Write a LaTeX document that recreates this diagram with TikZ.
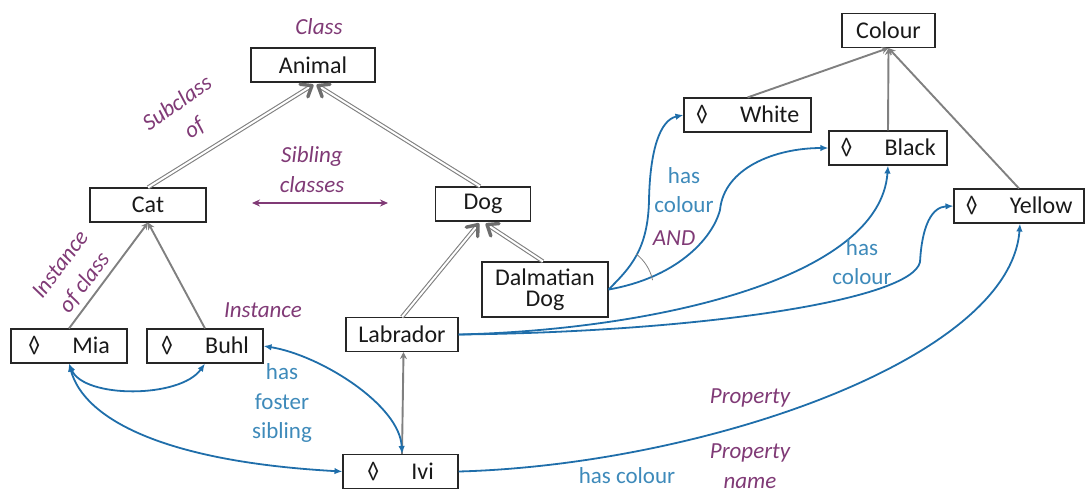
\documentclass[tikz,border=0pt]{standalone}
\usepackage{fontspec}
\setmainfont{Carlito}
\usetikzlibrary{arrows.meta,calc}

\definecolor{linkblue}{RGB}{31,110,170}
\definecolor{textblue}{RGB}{62,138,186}
\definecolor{notepurple}{RGB}{128,58,118}
\definecolor{hiergray}{RGB}{128,128,128}

\newcommand\boxfont{\fontsize{24}{21}\selectfont}
\newcommand\notefont{\fontsize{23}{30}\selectfont\itshape}
\newcommand\relfont{\fontsize{23}{29.5}\selectfont}
\newcommand\lz{◊\hspace{32pt}}

\tikzset{
  box/.style={draw=black!85, line width=1.1pt, inner sep=0pt, minimum height=34pt,
              font=\boxfont, text=black!90, align=center},
  note/.style={text=notepurple, font=\notefont, inner sep=0pt, align=center},
  rel/.style={text=textblue, font=\relfont, inner sep=0pt, align=center},
  sub/.style={draw=hiergray, line width=1.1pt, double=white, double distance=2pt},
  subv/.style={draw=hiergray!85!black, line width=3.4pt, line join=round, line cap=round},
  inst/.style={draw=hiergray, line width=1.9pt, -{Stealth[length=7pt,width=7pt]}},
  link/.style={draw=linkblue, line width=1.8pt, -{Latex[length=8pt,width=6.5pt]}},
  both/.style={link, {Latex[length=8pt,width=6.5pt]}-{Latex[length=8pt,width=6.5pt]}},
  andarc/.style={draw=hiergray, line width=0.8pt},
  sib/.style={draw=notepurple, line width=1.2pt,
              {Stealth[length=8pt,width=7pt]}-{Stealth[length=8pt,width=7pt]}}
}

% open barb at #1, opening back towards #2
\newcommand\subbarb[2]{%
  \draw[subv] ($(#1)!12pt!38:(#2)$) -- (#1) -- ($(#1)!12pt!-38:(#2)$);}

\begin{document}
\begin{tikzpicture}[x=1pt,y=-1pt]
\useasboundingbox (0,0) rectangle (1086,491);

% classes
\node[box, minimum width=124pt] (animal) at (313,65) {Animal};
\node[box, minimum width=116pt] (cat) at (148,205) {Cat};
\node[box, minimum width=95pt] (dog) at (483,204) {Dog};
\node[box, minimum width=112pt] (lab) at (402,334.5) {Labrador};
\node[box, minimum width=126pt, minimum height=55pt] (dal) at (545,289.5) {Dalmatian\\Dog};
\node[box, minimum width=93pt] (colour) at (888.5,30.5) {Colour};

% instances
\node[box, minimum width=116pt] (mia) at (69,346) {\lz Mia};
\node[box, minimum width=116pt] (buhl) at (205,346) {\lz Buhl};
\node[box, minimum width=115pt] (ivi) at (400.5,471.5) {\lz Ivi};
\node[box, minimum width=127pt] (white) at (747.5,115) {\lz White};
\node[box, minimum width=118pt] (black) at (888,148) {\lz Black};
\node[box, minimum width=130pt] (yellow) at (1019,206) {\lz Yellow};

% subclass links: double shaft with a heavy open barb at the superclass end
\coordinate (animalL) at ([xshift=-1pt,yshift=-3pt]animal.south);
\coordinate (animalR) at ([xshift=5pt,yshift=-3pt]animal.south);
\coordinate (dogL) at ([xshift=-5pt,yshift=-3pt]dog.south);
\coordinate (dogR) at ([xshift=4pt,yshift=-3pt]dog.south);
\coordinate (dogtop) at ([xshift=-3pt]dog.north);
\coordinate (daltop) at ([xshift=-2pt]dal.north);
\draw[sub] (cat.north) -- (animalL);
\draw[sub] (dogtop) -- (animalR);
\draw[sub] (lab.north) -- (dogL);
\draw[sub] (daltop) -- (dogR);
\subbarb{animalL}{cat.north}
\subbarb{animalR}{dogtop}
\subbarb{dogL}{lab.north}
\subbarb{dogR}{daltop}

% instance-of links
\draw[inst] (mia.north) -- (cat.south);
\draw[inst] (buhl.north) -- (cat.south);
\draw[inst] ([xshift=1.5pt]ivi.north) -- ([xshift=1.5pt]lab.south);
\draw[inst] (white.north) -- (colour.south);
\draw[inst] (black.north) -- (colour.south);
\draw[inst] (yellow.north) -- (colour.south);

% foster siblings
\draw[both] (mia.south) .. controls +(15,35) and +(-25,35) .. (buhl.south);
\draw[both] (mia.south) .. controls +(15,55) and +(-180,-10) .. (ivi.west);
\draw[both] (buhl.east) .. controls (320,355) and (400,405) .. ([xshift=1.5pt]ivi.north);

% colour properties
\draw[link] (dal.east) .. controls (630,268) and (648,250) .. (649,200)
                       .. controls (650,150) and (660,120) .. (white.west);
\draw[link] (dal.east) .. controls (675,278) and (712,240) .. (720,210)
                       .. controls (724,168) and (775,148) .. (black.west);
\draw[andarc] ([shift={(-52:45)}]dal.east) arc[start angle=-52, end angle=-12, radius=45];
\draw[link] (lab.east) .. controls (650,330) and (880,280) .. (black.south);
\draw[link] (lab.east) .. controls (700,332) and (912,300) .. (920,262)
                       .. controls (922,225) and (932,207) .. (yellow.west);
\draw[link] (ivi.east) .. controls (700,465) and (1010,360) .. ([xshift=1pt]yellow.south);

% sibling classes arrow
\coordinate (sibL) at (252,203);
\coordinate (sibR) at (388,203);
\draw[sib] (sibL) -- (sibR);

% annotations
\node[note, anchor=base] (lclass) at (319,34) {Class};
\node[note, rotate=35] (lsubclass) at (186,116) {Subclass\\of};
\node[note] (lsibling) at (312,170) {Sibling\\classes};
\node[note, rotate=53] (linstclass) at (73,274) {Instance\\of class};
\node[note, anchor=base] (linstance) at (263,317) {Instance};
\node[rel] (lfoster) at (282,403) {has\\foster\\sibling};
\node[rel] (lhascol1) at (684,190) {has\\colour};
\node[note, anchor=base] (land) at (674,245) {AND};
\node[rel] (lhascol2) at (862,262) {has\\colour};
\node[note, anchor=base] (lprop) at (750,403) {Property};
\node[note] (lpropname) at (750,466) {Property\\name};
\node[rel, anchor=base] (lhascol3) at (627,483) {has colour};
\end{tikzpicture}
\end{document}
